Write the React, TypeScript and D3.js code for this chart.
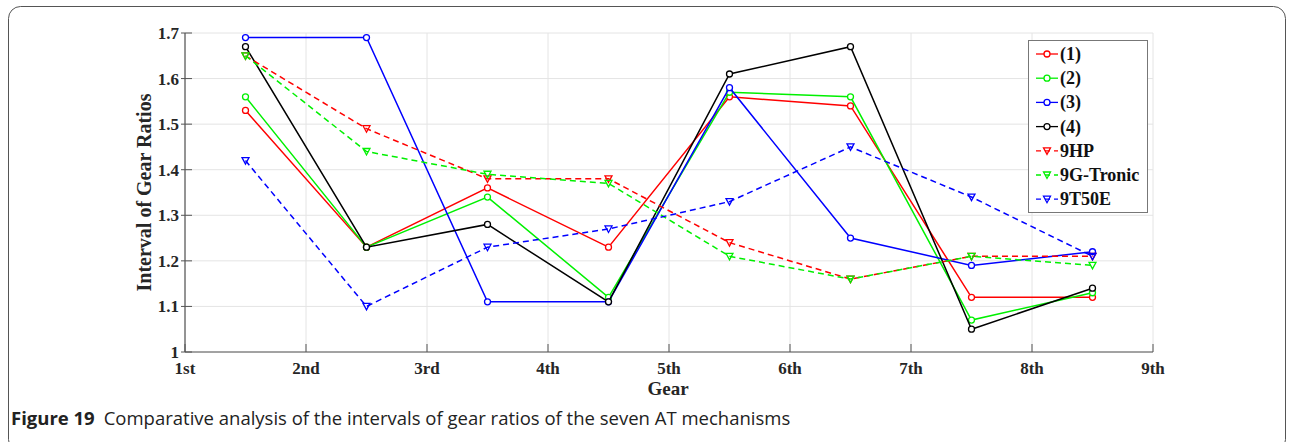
import * as d3 from 'd3';

// gear labels on the x axis
const gearTicks = ['1st', '2nd', '3rd', '4th', '5th', '6th', '7th', '8th', '9th'];
// points sit between gears (1.5 .. 8.5)
const gearPos = [1.5, 2.5, 3.5, 4.5, 5.5, 6.5, 7.5, 8.5];
const yTicks = [1, 1.1, 1.2, 1.3, 1.4, 1.5, 1.6, 1.7];

const s1 = [1.53, 1.23, 1.36, 1.23, 1.56, 1.54, 1.12, 1.12];
const s2 = [1.56, 1.23, 1.34, 1.12, 1.57, 1.56, 1.07, 1.13];
const s3 = [1.69, 1.69, 1.11, 1.11, 1.58, 1.25, 1.19, 1.22];
const s4 = [1.67, 1.23, 1.28, 1.11, 1.61, 1.67, 1.05, 1.14];
const s9HP = [1.65, 1.49, 1.38, 1.38, 1.24, 1.16, 1.21, 1.21];
const s9G = [1.65, 1.44, 1.39, 1.37, 1.21, 1.16, 1.21, 1.19];
const s9T = [1.42, 1.1, 1.23, 1.27, 1.33, 1.45, 1.34, 1.21];

const series = [
  { name: '(1)', values: s1, color: '#ff0000', dashed: false },
  { name: '(2)', values: s2, color: '#00f000', dashed: false },
  { name: '(3)', values: s3, color: '#0000ff', dashed: false },
  { name: '(4)', values: s4, color: '#000000', dashed: false },
  { name: '9HP', values: s9HP, color: '#ff0000', dashed: true },
  { name: '9G-Tronic', values: s9G, color: '#00f000', dashed: true },
  { name: '9T50E', values: s9T, color: '#0000ff', dashed: true },
];

const W = 1293;
const H = 442;
const left = 185;
const right = 1153;
const top = 33;
const bottom = 352;
const serif = '"Liberation Serif", "Times New Roman", serif';

const Marker = ({ x, y, color, tri }: { x: number; y: number; color: string; tri: boolean }) =>
  tri ? (
    <path
      d={`M${x - 3.5},${y - 3} L${x + 3.5},${y - 3} L${x},${y + 3.5} Z`}
      fill="none"
      stroke={color}
      strokeWidth={1.3}
    />
  ) : (
    <circle cx={x} cy={y} r={3} fill="white" stroke={color} strokeWidth={1.3} />
  );

export default function App() {
  const x = d3.scaleLinear().domain([1, 9]).range([left, right]);
  const y = d3.scaleLinear().domain([1, 1.7]).range([bottom, top]);
  const line = d3
    .line<number>()
    .x((_, i) => x(gearPos[i]))
    .y((d) => y(d));

  return (
    <svg
      width={W}
      height={H}
      style={{ position: 'absolute', left: 0, top: 0, background: 'white' }}
    >
      {/* figure frame */}
      <rect x={8.5} y={6.5} width={1277} height={445} rx={12} fill="none" stroke="#555" strokeWidth={1} />

      {/* grid */}
      {yTicks.map((t) => (
        <line key={'gy' + t} x1={left} x2={right} y1={y(t)} y2={y(t)} stroke="#e4e4e4" />
      ))}
      {gearTicks.map((_, i) => (
        <line key={'gx' + i} x1={x(i + 1)} x2={x(i + 1)} y1={top} y2={bottom} stroke="#e4e4e4" />
      ))}

      {/* axes */}
      <line x1={left} x2={left} y1={top} y2={bottom} stroke="#555" strokeWidth={1.2} />
      <line x1={left} x2={right} y1={bottom} y2={bottom} stroke="#555" strokeWidth={1.2} />
      {yTicks.map((t) => (
        <g key={'yt' + t}>
          <line x1={left - 4} x2={left + 7} y1={y(t)} y2={y(t)} stroke="#555" />
          <text
            x={left - 6}
            y={y(t) + 6}
            textAnchor="end"
            fontFamily={serif}
            fontWeight="bold"
            fontSize={17}
            fill="#262626"
          >
            {d3.format('')(t)}
          </text>
        </g>
      ))}
      {gearTicks.map((g, i) => (
        <g key={'xt' + g}>
          <line x1={x(i + 1)} x2={x(i + 1)} y1={bottom} y2={bottom - 8} stroke="#555" />
          <text
            x={x(i + 1)}
            y={bottom + 22}
            textAnchor="middle"
            fontFamily={serif}
            fontWeight="bold"
            fontSize={17}
            fill="#262626"
          >
            {g}
          </text>
        </g>
      ))}
      <text x={668} y={395} textAnchor="middle" fontFamily={serif} fontWeight="bold" fontSize={19} fill="#262626">
        Gear
      </text>
      <text
        transform={`translate(151,${(top + bottom) / 2}) rotate(-90)`}
        textAnchor="middle"
        fontFamily={serif}
        fontWeight="bold"
        fontSize={20}
        fill="#262626"
      >
        Interval of Gear Ratios
      </text>

      {/* series */}
      {series.map((s) => (
        <g key={s.name}>
          <path
            d={line(s.values) || ''}
            fill="none"
            stroke={s.color}
            strokeWidth={1.5}
            strokeDasharray={s.dashed ? '6,4' : undefined}
          />
          {s.values.map((v, i) => (
            <Marker key={i} x={x(gearPos[i])} y={y(v)} color={s.color} tri={s.dashed} />
          ))}
        </g>
      ))}

      {/* legend */}
      <rect x={1028.5} y={40.5} width={119} height={172} fill="white" stroke="#777" />
      {series.map((s, i) => {
        const ly = 54 + i * 24.2;
        return (
          <g key={'lg' + s.name}>
            <line
              x1={1036}
              x2={1058}
              y1={ly}
              y2={ly}
              stroke={s.color}
              strokeWidth={1.3}
              strokeDasharray={s.dashed ? '5,4' : undefined}
            />
            <Marker x={1047} y={ly} color={s.color} tri={s.dashed} />
            <text x={1060} y={ly + 6} fontFamily={serif} fontWeight="bold" fontSize={18} fill="#111">
              {s.name}
            </text>
          </g>
        );
      })}

      {/* caption */}
      <text x={11} y={425} fontFamily='"Open Sans", "Noto Sans", sans-serif' fontSize={18.5} fill="#222">
        <tspan fontWeight="bold">Figure 19</tspan>
        <tspan dx={9}>Comparative analysis of the intervals of gear ratios of the seven AT mechanisms</tspan>
      </text>
    </svg>
  );
}
